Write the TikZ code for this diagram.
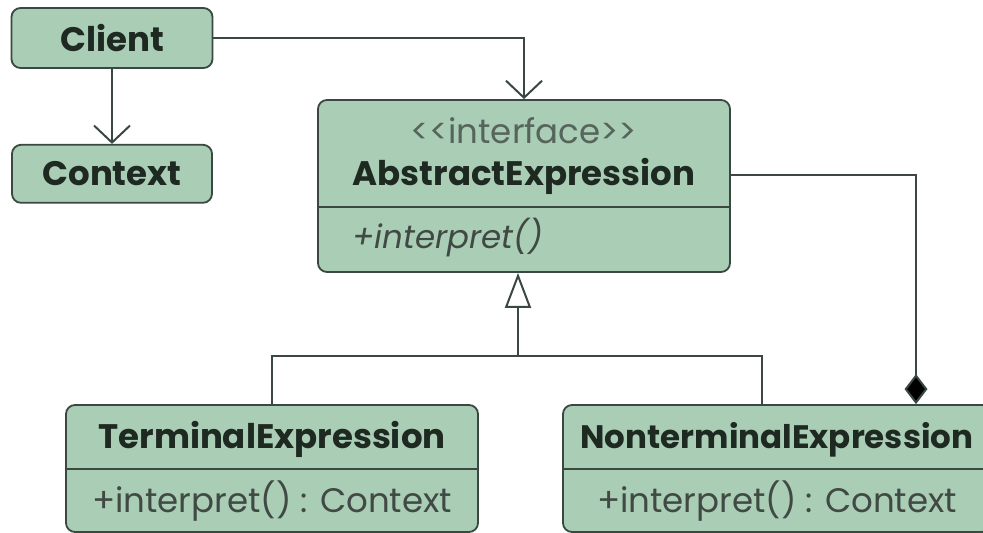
\documentclass[tikz,border=0pt]{standalone}
\usepackage{fontspec}
\setmainfont{Poppins}
\usetikzlibrary{positioning, arrows.meta, calc}
\definecolor{clsfill}{HTML}{A9CDB5}
\definecolor{clsline}{HTML}{3B4841}
\definecolor{clstext}{HTML}{1E2922}
\definecolor{stereo}{HTML}{56645B}

\begin{document}
\begin{tikzpicture}[x=1pt, y=-1pt,
    cls/.style={rectangle, draw=clsline, fill=clsfill, rounded corners=9pt, line width=1.8pt, inner sep=0pt},
    clsname/.style={font=\fontsize{34}{40}\selectfont\bfseries, text=clstext, inner sep=0pt},
    oper/.style={font=\fontsize{34}{40}\selectfont, text=clstext!85, inner sep=0pt},
    stereotype/.style={font=\fontsize{34}{40}\selectfont, text=stereo, inner sep=0pt},
    conn/.style={draw=clsline, line width=2pt},
    assoc/.style={conn, -{Straight Barb[length=17pt, width=36pt, line width=2pt]}},
    gen/.style={conn, -{Triangle[open, length=35pt, width=26pt, fill=white]}},
    comp/.style={conn, -{Diamond[length=30pt, width=23pt, fill=black]}},
  ]
    \path[use as bounding box, clip] (0,0) rectangle (983,533);

    % client and context
    \node[cls, clsname, minimum width=201pt, minimum height=60pt] (client) at (112,38) {Client};
    \node[cls, clsname, minimum width=200pt, minimum height=58pt, below=75pt of client] (context) {Context};

    % interface
    \node[cls, minimum width=412pt, minimum height=172pt] (abs) at (524,186) {};
    \node[stereotype, anchor=base] (abs-st) at (524,143) {<\kern0pt<interface>\kern0pt>};
    \node[clsname, anchor=base] (abs-name) at (524,185) {AbstractExpression};
    \draw[conn] (abs.west |- 0,207) -- (abs.east |- 0,207);
    \node[oper, anchor=base west, font=\fontsize{32.5}{38}\selectfont\itshape] (abs-op) at (352,248) {+interpret()};

    % concrete expressions
    \node[cls, minimum width=412pt, minimum height=127pt] (term) at (272,468.5) {};
    \node[clsname, anchor=base] (term-name) at (272,448) {TerminalExpression};
    \draw[conn] (term.west |- 0,469) -- (term.east |- 0,469);
    \node[oper, anchor=base] (term-op) at (272,512) {+interpret() : Context};

    \node[cls, minimum width=428pt, minimum height=127pt] (nonterm) at (777,468.5) {};
    \node[clsname, anchor=base, font=\fontsize{32.5}{38}\selectfont\bfseries] (nonterm-name) at (777,448) {NonterminalExpression};
    \draw[conn] (nonterm.west |- 0,469) -- (nonterm.east |- 0,469);
    \node[oper, anchor=base] (nonterm-op) at (777,512) {+interpret() : Context};

    % relations
    \draw[assoc] (client) -- (context);
    \draw[assoc] (client.east) -| (abs.north);
    \draw[comp] (abs.east |- 0,175) -| ([xshift=139pt]nonterm.north);
    \coordinate (bus) at ([xshift=-6pt]abs.south |- 0,356);
    \draw[conn] (term.north) |- (bus) -| ([xshift=-15pt]nonterm.north);
    \draw[gen] (bus) -- (bus |- abs.south);
  \end{tikzpicture}
\end{document}
